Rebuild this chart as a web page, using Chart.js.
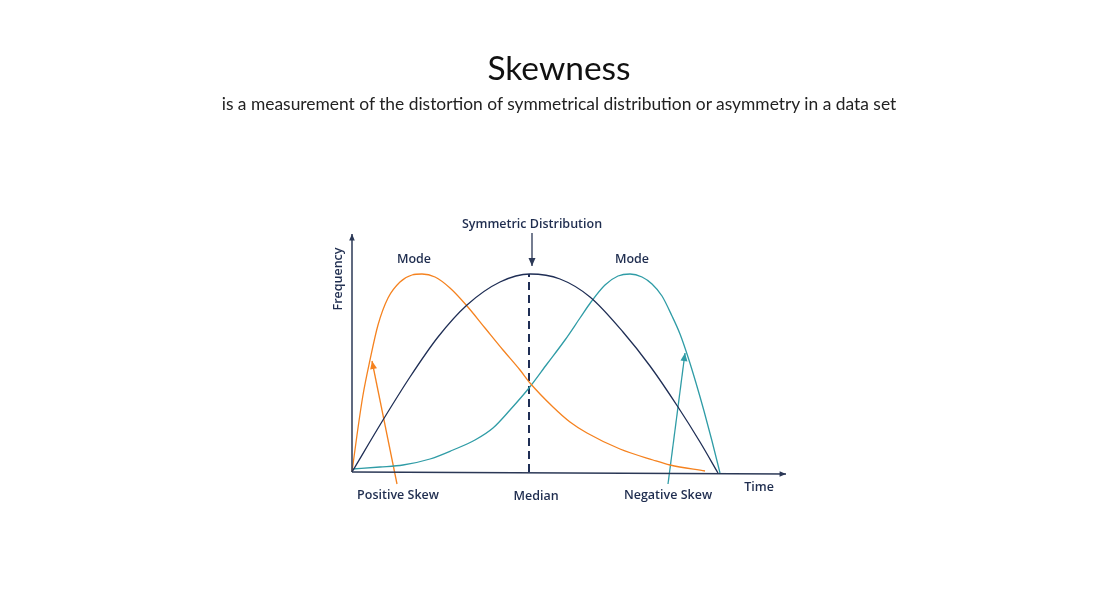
<!DOCTYPE html>
<html>
<head>
<meta charset="utf-8">
<script src="https://cdn.jsdelivr.net/npm/chart.js@4/dist/chart.umd.min.js"></script>
<style>
  html, body { margin: 0; padding: 0; background: #ffffff; }
  #wrap { position: relative; width: 1118px; height: 597px; }
  #title { position: absolute; left: 0; width: 1118px; top: 47px; text-align: center; font-family: Lato, sans-serif; font-size: 33.5px; color: #111; }
  #sub { position: absolute; left: 0; width: 1118px; top: 93px; text-align: center; font-family: Lato, sans-serif; font-size: 17.4px; color: #222; }
  canvas { position: absolute; left: 0; top: 0; }
</style>
</head>
<body>
<div id="wrap">
  <canvas id="c" width="1118" height="597"></canvas>
  <div id="title">Skewness</div>
  <div id="sub">is a measurement of the distortion of symmetrical distribution or asymmetry in a data set</div>
</div>
<script>
// Positive skew curve (orange)
const positiveX = [0, 5, 11, 18, 26, 36, 48, 60, 70, 83, 98, 115, 133, 151, 168, 178, 201, 218, 235, 268, 301, 318, 353];
const positiveY = [0, 37, 77, 112, 147, 174, 190, 197, 198, 195, 184, 166, 144, 122, 102, 89, 65, 50, 39, 23, 12, 7, 1];
// Symmetric curve (navy)
const symmetricX = [0, 31, 58, 86, 115, 148, 178, 208, 238, 271, 298, 326, 348, 366];
const symmetricY = [0, 52, 95, 135, 167, 190, 198, 193, 175, 140, 106, 65, 30, -1];
// Negative skew curve (teal)
const negativeX = [0, 28, 51, 78, 101, 123, 141, 158, 177, 195, 213, 228, 239, 253, 266, 278, 290, 300, 310, 320, 328, 336, 344, 352, 360, 368];
const negativeY = [3, 5, 7, 13, 22, 32, 44, 62, 84, 108, 132, 154, 170, 187, 196, 198, 195, 188, 176, 156, 138, 115, 89, 61, 31, -1];
// Median line
const medianX = [177, 177];
const medianY = [0, 198];
// Arrows (from, to)
const posArrowX = [45, 20];
const posArrowY = [-12, 111];
const negArrowX = [316, 333];
const negArrowY = [-12, 119];
const symArrowX = [180, 180];
const symArrowY = [239, 206];
// Axes
const yAxisX = [0, 0];
const yAxisY = [0, 238];
const xAxisX = [0, 434];
const xAxisY = [0, -2];
// Annotation texts
const noteTexts = ['Symmetric Distribution', 'Mode', 'Mode', 'Positive Skew', 'Median', 'Negative Skew', 'Time'];
const noteX = [180, 62, 280, 46, 184, 316, 407];
const noteY = [248, 213, 213, -23, -24, -23, -15];
const yTitle = 'Frequency';

const ORANGE = '#f5821f', NAVY = '#1f2e55', TEAL = '#2f9ca6', AXIS = '#2b3856', TEXT = '#1f2d4f';

const pts = (xs, ys) => xs.map((x, i) => ({ x: x, y: ys[i] }));
const ds = (xs, ys, color, w, extra) => Object.assign({
  data: pts(xs, ys), borderColor: color, borderWidth: w, pointRadius: 0,
  fill: false, clip: false, tension: 0, showLine: true
}, extra || {});

const arrowHeads = [
  { xs: posArrowX, ys: posArrowY, color: ORANGE, size: 5 },
  { xs: negArrowX, ys: negArrowY, color: TEAL, size: 5 },
  { xs: symArrowX, ys: symArrowY, color: AXIS, size: 5 },
  { xs: yAxisX, ys: yAxisY, color: AXIS, size: 4 },
  { xs: xAxisX, ys: xAxisY, color: AXIS, size: 4 }
];

const annot = {
  id: 'annot',
  afterDatasetsDraw(chart) {
    const { ctx, scales: { x, y } } = chart;
    ctx.save();
    arrowHeads.forEach(a => {
      const x0 = x.getPixelForValue(a.xs[0]), y0 = y.getPixelForValue(a.ys[0]);
      const x1 = x.getPixelForValue(a.xs[1]), y1 = y.getPixelForValue(a.ys[1]);
      const ang = Math.atan2(y1 - y0, x1 - x0);
      const s = a.size;
      ctx.fillStyle = a.color;
      ctx.beginPath();
      ctx.moveTo(x1, y1);
      ctx.lineTo(x1 - s * 1.6 * Math.cos(ang) + s * 0.7 * Math.sin(ang), y1 - s * 1.6 * Math.sin(ang) - s * 0.7 * Math.cos(ang));
      ctx.lineTo(x1 - s * 1.6 * Math.cos(ang) - s * 0.7 * Math.sin(ang), y1 - s * 1.6 * Math.sin(ang) + s * 0.7 * Math.cos(ang));
      ctx.closePath();
      ctx.fill();
    });
    ctx.fillStyle = TEXT;
    ctx.font = '600 12.5px "Open Sans", sans-serif';
    ctx.textAlign = 'center';
    ctx.textBaseline = 'middle';
    noteTexts.forEach((t, i) => {
      ctx.fillText(t, x.getPixelForValue(noteX[i]), y.getPixelForValue(noteY[i]));
    });
    ctx.translate(x.getPixelForValue(-14), y.getPixelForValue(193));
    ctx.rotate(-Math.PI / 2);
    ctx.fillText(yTitle, 0, 0);
    ctx.restore();
  }
};

new Chart(document.getElementById('c'), {
  type: 'scatter',
  data: {
    datasets: [
      ds(yAxisX, yAxisY, AXIS, 1.5),
      ds(xAxisX, xAxisY, AXIS, 1.5),
      ds(symmetricX, symmetricY, NAVY, 1.3, { cubicInterpolationMode: 'monotone' }),
      ds(positiveX, positiveY, ORANGE, 1.3, { cubicInterpolationMode: 'monotone' }),
      ds(negativeX, negativeY, TEAL, 1.3, { cubicInterpolationMode: 'monotone' }),
      ds(medianX, medianY, NAVY, 2, { borderDash: [8, 5] }),
      ds(posArrowX, posArrowY, ORANGE, 1.3),
      ds(negArrowX, negArrowY, TEAL, 1.3),
      ds(symArrowX, symArrowY, AXIS, 1.3)
    ]
  },
  options: {
    responsive: false,
    animation: false,
    layout: { padding: { left: 352, right: 332, top: 234, bottom: 125 } },
    plugins: { legend: { display: false }, tooltip: { enabled: false }, title: { display: false } },
    scales: {
      x: { type: 'linear', min: 0, max: 434, display: false },
      y: { type: 'linear', min: 0, max: 238, display: false }
    }
  },
  plugins: [annot]
});
</script>
</body>
</html>
